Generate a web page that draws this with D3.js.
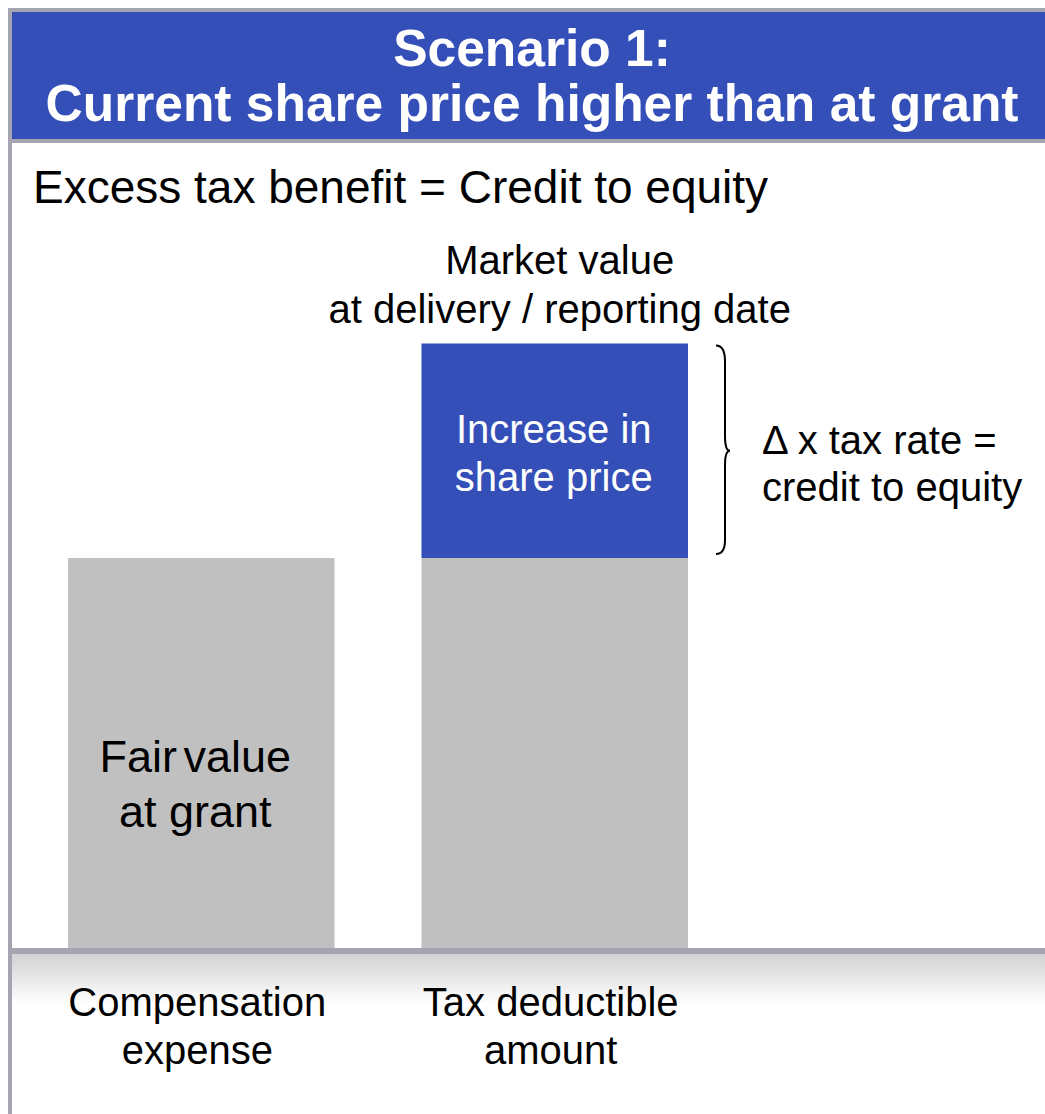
<!DOCTYPE html>
<html lang="en">

<head>
    <meta charset="utf-8">
    <title>Scenario 1</title>
</head>
<style>
    body {
        margin: 0;
        background: white;
    }

    svg text {
        font-family: "Liberation Sans", Arial, sans-serif;
    }
</style>

<body>
    <script src="https://cdn.jsdelivr.net/npm/d3@7"></script>
    <script>
        // data
        var categories = ["Compensation expense", "Tax deductible amount"];
        var categoryLines = [["Compensation", "expense"], ["Tax deductible", "amount"]];
        var fairValue = [100, 100];
        var increase = [0, 55];
        var titleLines = ["Scenario 1:", "Current share price higher than at grant"];

        var width = 1045, height = 1114;
        var grey = "#a5a5b1";
        var blue = "#354fb9";
        var barGrey = "#c0c0c0";

        var svg = d3.select("body")
            .append("svg")
            .attr("width", width)
            .attr("height", height);

        var defs = svg.append("defs");
        var grad = defs.append("linearGradient")
            .attr("id", "floor")
            .attr("x1", 0).attr("y1", 0).attr("x2", 0).attr("y2", 1);
        grad.append("stop").attr("offset", "0%").attr("stop-color", "#d2d2d2");
        grad.append("stop").attr("offset", "100%").attr("stop-color", "#ffffff");

        // frame
        svg.append("rect")
            .attr("x", 8).attr("y", 8)
            .attr("width", width - 8).attr("height", height - 8)
            .attr("fill", "white");
        svg.append("rect").attr("x", 8).attr("y", 8).attr("width", width - 8).attr("height", 4).attr("fill", grey);
        svg.append("rect").attr("x", 8).attr("y", 8).attr("width", 4).attr("height", height - 8).attr("fill", grey);

        // header
        svg.append("rect").attr("x", 12).attr("y", 12).attr("width", width - 12).attr("height", 127).attr("fill", blue);
        svg.append("rect").attr("x", 12).attr("y", 139).attr("width", width - 12).attr("height", 4).attr("fill", grey);

        svg.append("g")
            .selectAll("text")
            .data(titleLines)
            .join("text")
            .attr("x", 532)
            .attr("y", (d, i) => 66 + i * 55)
            .attr("text-anchor", "middle")
            .attr("fill", "white")
            .attr("font-weight", "bold")
            .attr("font-size", 51.5)
            .text(d => d);

        svg.append("text")
            .attr("x", 33)
            .attr("y", 203)
            .attr("font-size", 46)
            .attr("fill", "black")
            .text("Excess tax benefit = Credit to equity");

        // scales
        var x = d3.scaleBand()
            .domain(categories)
            .range([68, 688])
            .paddingInner(0.246);

        var y = d3.scaleLinear()
            .domain([0, 100])
            .range([948, 558]);

        // floor below baseline
        svg.append("rect")
            .attr("x", 12).attr("y", y(0) + 6)
            .attr("width", width - 12).attr("height", 50)
            .attr("fill", "url(#floor)");

        var bars = svg.append("g");

        bars.selectAll("rect.base")
            .data(categories)
            .join("rect")
            .attr("class", "base")
            .attr("x", d => x(d))
            .attr("width", x.bandwidth())
            .attr("y", (d, i) => y(fairValue[i]))
            .attr("height", (d, i) => y(0) - y(fairValue[i]))
            .attr("fill", barGrey);

        bars.selectAll("rect.inc")
            .data(categories.filter((d, i) => increase[i] > 0))
            .join("rect")
            .attr("class", "inc")
            .attr("x", d => x(d))
            .attr("width", x.bandwidth())
            .attr("y", d => { var i = categories.indexOf(d); return y(fairValue[i] + increase[i]); })
            .attr("height", d => { var i = categories.indexOf(d); return y(fairValue[i]) - y(fairValue[i] + increase[i]); })
            .attr("fill", blue);

        // baseline
        svg.append("rect")
            .attr("x", 12).attr("y", y(0))
            .attr("width", width - 12).attr("height", 6)
            .attr("fill", grey);

        // category labels
        svg.append("g")
            .selectAll("text")
            .data(categories)
            .join("text")
            .attr("x", d => x(d) + x.bandwidth() / 2 - 4)
            .attr("y", 1016)
            .attr("text-anchor", "middle")
            .attr("font-size", 40)
            .selectAll("tspan")
            .data((d, i) => categoryLines[i])
            .join("tspan")
            .attr("x", function () { return this.parentNode.getAttribute("x"); })
            .attr("dy", (d, i) => i ? 48 : 0)
            .text(d => d);

        // labels inside bars
        var c0 = x(categories[0]) + x.bandwidth() / 2;
        var c1 = x(categories[1]) + x.bandwidth() / 2;
        var top1 = y(fairValue[1] + increase[1]);
        var mid1 = y(fairValue[1]);

        svg.append("text")
            .attr("x", c0 - 6)
            .attr("y", 772)
            .attr("text-anchor", "middle")
            .attr("font-size", 45)
            .selectAll("tspan")
            .data(["Fair value", "at grant"])
            .join("tspan")
            .attr("x", c0 - 6)
            .attr("dy", (d, i) => i ? 55 : 0)
            .attr("word-spacing", (d, i) => i ? 0 : -6)
            .text(d => d);

        svg.append("text")
            .attr("x", c1 - 1)
            .attr("y", 443)
            .attr("text-anchor", "middle")
            .attr("font-size", 40)
            .attr("fill", "white")
            .selectAll("tspan")
            .data(["Increase in", "share price"])
            .join("tspan")
            .attr("x", c1 - 1)
            .attr("dy", (d, i) => i ? 48 : 0)
            .text(d => d);

        svg.append("text")
            .attr("x", c1 + 5)
            .attr("y", 274)
            .attr("text-anchor", "middle")
            .attr("font-size", 40)
            .selectAll("tspan")
            .data(["Market value", "at delivery / reporting date"])
            .join("tspan")
            .attr("x", c1 + 5)
            .attr("dy", (d, i) => i ? 49 : 0)
            .text(d => d);

        // brace
        var bx = 716, bw = 14;
        var ym = (top1 + mid1) / 2;
        var brace = d3.path();
        brace.moveTo(bx, top1 + 2);
        brace.quadraticCurveTo(bx + bw / 2 + 2, top1 + 2, bx + bw / 2 + 2, top1 + 18);
        brace.lineTo(bx + bw / 2 + 2, ym - 14);
        brace.quadraticCurveTo(bx + bw / 2 + 2, ym, bx + bw, ym);
        brace.quadraticCurveTo(bx + bw / 2 + 2, ym, bx + bw / 2 + 2, ym + 14);
        brace.lineTo(bx + bw / 2 + 2, mid1 - 18);
        brace.quadraticCurveTo(bx + bw / 2 + 2, mid1 - 4, bx, mid1 - 4);
        svg.append("path")
            .attr("d", brace.toString())
            .attr("fill", "none")
            .attr("stroke", "black")
            .attr("stroke-width", 2);

        svg.append("text")
            .attr("x", 762)
            .attr("y", 454)
            .attr("font-size", 40)
            .selectAll("tspan")
            .data(["\u0394 x tax rate =", "credit to equity"])
            .join("tspan")
            .attr("x", 762)
            .attr("dy", (d, i) => i ? 47 : 0)
            .text(d => d);
    </script>
</body>

</html>
